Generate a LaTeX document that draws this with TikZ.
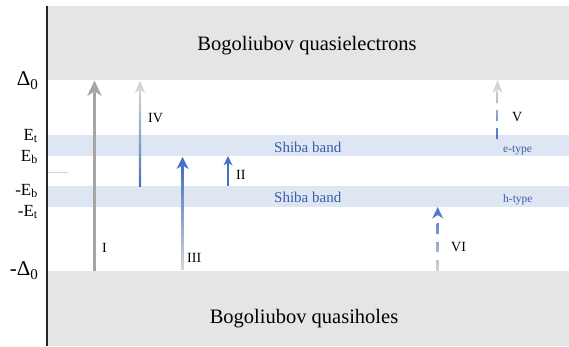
\documentclass[tikz,border=0pt]{standalone}
\usepackage{fontspec}
\setmainfont{Liberation Serif}
\usetikzlibrary{calc}
\definecolor{bandgray}{HTML}{E5E5E5}
\definecolor{shiba}{HTML}{DEE6F4}
\definecolor{shibatext}{HTML}{3A5DA8}
\definecolor{ablue}{HTML}{4472C4}
\definecolor{agray}{HTML}{A8A4A4}
\definecolor{alight}{HTML}{D4D4D4}
\definecolor{axisc}{HTML}{262626}
\definecolor{tickline}{HTML}{C8D4EB}
% arrow head: x, tip y, length, width, colour
\newcommand{\headup}[5]{\fill[#5] (#1,#2) -- ++({-(#4)/2},{#3}) -- ++({(#4)/2},{-0.3*(#3)}) -- ++({(#4)/2},{0.3*(#3)}) -- cycle;}
\newcommand{\dsub}[1]{\raisebox{-0.22em}{\fontsize{15}{15}\selectfont #1}}
\begin{document}
\begin{tikzpicture}[x=1pt,y=-1pt,
  big/.style={font=\fontsize{20.5}{24}\selectfont, inner sep=0pt},
  level/.style={font=\fontsize{17}{20}\selectfont, inner sep=0pt, anchor=base east},
  dlevel/.style={font=\fontsize{21}{24}\selectfont, inner sep=0pt, anchor=base east},
  shibalab/.style={font=\fontsize{15}{18}\selectfont, text=shibatext, inner sep=0pt, anchor=base west},
  typelab/.style={font=\fontsize{11.5}{14}\selectfont, text=shibatext, inner sep=0pt, anchor=base west},
  roman/.style={font=\fontsize{14}{17}\selectfont, inner sep=0pt, anchor=base west}]
\useasboundingbox (0,0) rectangle (569,346);
% bands
\fill[bandgray] (47,6) rectangle (569,80);
\fill[bandgray] (47,271) rectangle (569,346);
\fill[shiba] (47,135) rectangle (569,156);
\fill[shiba] (47,186) rectangle (569,207);
% axis
\coordinate (axtop) at (46.5,6);
\coordinate (axbot) at (46.5,346);
\draw[axisc, line width=2pt] (axtop) -- (axbot);
\coordinate (tl) at (48,172);
\coordinate (tr) at (68,172);
\draw[tickline, line width=1pt] (tl) -- (tr);
% band labels
\node[big, anchor=base] (qe) at (307,50) {Bogoliubov quasielectrons};
\node[big, anchor=base] (qh) at (304,323) {Bogoliubov quasiholes};
\node[shibalab] (s1) at (274,152) {Shiba band};
\node[shibalab] (s2) at (274,202) {Shiba band};
\node[typelab] (et) at (503,152) {e-type};
\node[typelab] (ht) at (503,202) {h-type};
% level labels
\node[dlevel] (d0) at (38,85) {Δ\dsub{0}};
\node[level] (Et) at (38,140) {E\textsubscript{t}};
\node[level] (Eb) at (38,161) {E\textsubscript{b}};
\node[level] (mEb) at (38,195) {-E\textsubscript{b}};
\node[level] (mEt) at (38,216) {-E\textsubscript{t}};
\node[dlevel] (md0) at (38,275) {-Δ\dsub{0}};
% roman labels
\node[roman] (lI) at (102,252) {I};
\node[roman] (lII) at (236,179) {II};
\node[roman] (lIII) at (187,262) {III};
\node[roman] (lIV) at (148,122) {IV};
\node[roman] (lV) at (512,121) {V};
\node[roman] (lVI) at (451,251) {VI};
% arrow I
\fill[agray] (93.2,271) rectangle (95.8,92);
\headup{94.5}{80.5}{15.5}{14.5}{agray}
% arrow IV
\shade[top color=alight, middle color=alight!45!ablue, bottom color=ablue] (138.8,186) rectangle (141.2,90);
\headup{140}{80.5}{12.5}{10}{alight}
% arrow III
\shade[top color=ablue, middle color=ablue!60!alight, bottom color=alight] (181.2,269) rectangle (183.8,166);
\headup{182.5}{157}{12}{12}{ablue}
% arrow II
\fill[ablue] (227,186) rectangle (229,163);
\headup{228}{156}{9.5}{9}{ablue}
% arrow V (dashed)
\begin{scope}
  \clip (496.3,139) rectangle (498.7,128)
        (496.3,121) rectangle (498.7,110)
        (496.3,103) rectangle (498.7,90);
  \shade[top color=alight, middle color=alight!50!ablue, bottom color=ablue] (496.3,139) rectangle (498.7,90);
\end{scope}
\headup{497.5}{80}{13}{10}{alight}
% arrow VI (dashed)
\begin{scope}
  \clip (436.5,271) rectangle (438.9,260)
        (436.5,252) rectangle (438.9,242)
        (436.5,234) rectangle (438.9,223);
  \shade[top color=ablue!75!alight, middle color=ablue!45!alight, bottom color=alight] (436.5,271) rectangle (438.9,223);
\end{scope}
\headup{437.7}{207}{11.5}{11}{ablue!90!alight}
\end{tikzpicture}
\end{document}
